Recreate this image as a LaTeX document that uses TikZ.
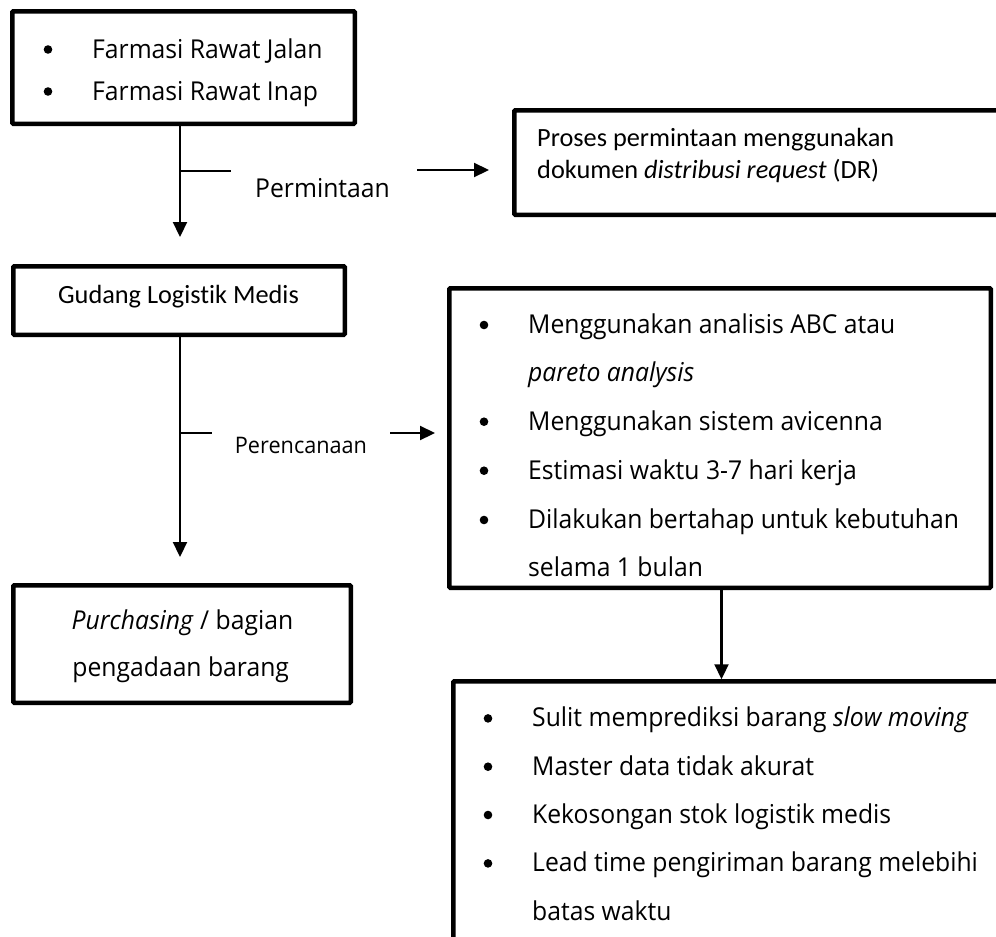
\documentclass[tikz,border=0pt]{standalone}
\usepackage{fontspec}
\setmainfont{Open Sans}[FakeStretch=0.95]
\newfontfamily\calib{Carlito}[Ligatures=NoCommon]
\usetikzlibrary{arrows.meta}
\tikzset{
  box/.style={draw, line width=4.5pt, inner sep=0pt, outer sep=0pt, rounded corners=1pt},
  conn/.style={line width=2.2pt},
  arr/.style={conn, -{Triangle[length=15pt,width=14pt]}},
  txt/.style={anchor=base west, inner sep=0pt, font=\fontsize{26}{26}\selectfont},
  ctxt/.style={anchor=base, inner sep=0pt, font=\fontsize{26}{26}\selectfont},
  ltxt/.style={anchor=base, inner sep=0pt, font=\fontsize{22.8}{22.8}\selectfont},
  ctxtc/.style={anchor=base west, inner sep=0pt, font=\calib\fontsize{26.3}{26.3}\selectfont},
  bul/.style={circle, fill, inner sep=0pt, minimum size=8.6pt},
}
\begin{document}
\begin{tikzpicture}[x=1pt,y=-1pt]
\useasboundingbox (0,0) rectangle (996,937);
\clip (0,0) rectangle (996,937);
% boxes
\node[box, minimum width=342.5pt, minimum height=112.5pt] (b1) at (183.5,67.5) {};
\node[box, minimum width=493.5pt, minimum height=104.5pt] (b2) at (761,162.5) {};
\node[box, minimum width=331.5pt, minimum height=68.5pt] (b3) at (179,300.5) {};
\node[box, minimum width=337.5pt, minimum height=117.5pt] (b4) at (182,644) {};
\node[box, minimum width=541.5pt, minimum height=299.5pt] (b5) at (720,438) {};
\node[box, minimum width=555.5pt, minimum height=266.5pt] (b6) at (731,814.5) {};
% box 1 text
\node[bul] (d11) at (48,49.5) {};
\node[txt] (t11) at (92,58) {Farmasi Rawat Jalan};
\node[bul] (d12) at (48,91.5) {};
\node[txt] (t12) at (92,100) {Farmasi Rawat Inap};
% box 2 text
\node[ctxtc] (t21) at (537,146.7) {Proses permintaan menggunakan};
\node[ctxtc] (t22) at (537,178.3) {dokumen \textit{distribusi request} (DR)};
% box 3 text
\node[ctxtc, anchor=base] (t31) at (178.5,303.3) {Gudang Logistik Medis};
% box 4 text
\node[ctxt] (t41) at (182.5,629) {\textit{Purchasing} / bagian};
\node[ctxt] (t42) at (180.7,676) {pengadaan barang};
% box 5 text
\node[bul] (d51) at (484,325) {};
\node[txt] (t51) at (528,333.3) {Menggunakan analisis ABC atau};
\node[txt] (t52) at (528,381.7) {\textit{pareto analysis}};
\node[bul] (d53) at (484,421.7) {};
\node[txt] (t53) at (528,430) {Menggunakan sistem avicenna};
\node[bul] (d54) at (484,470.7) {};
\node[txt] (t54) at (528,479) {Estimasi waktu 3-7 hari kerja};
\node[bul] (d55) at (484,520) {};
\node[txt] (t55) at (528,528.3) {Dilakukan bertahap untuk kebutuhan};
\node[txt] (t56) at (528,576) {selama 1 bulan};
% box 6 text
\node[bul] (d61) at (488,718.4) {};
\node[txt] (t61) at (532,726.7) {Sulit memprediksi barang \textit{slow moving}};
\node[bul] (d62) at (488,766.7) {};
\node[txt] (t62) at (532,775) {Master data tidak akurat};
\node[bul] (d63) at (488,815) {};
\node[txt] (t63) at (532,823.3) {Kekosongan stok logistik medis};
\node[bul] (d64) at (488,863.4) {};
\node[txt] (t64) at (532,871.7) {Lead time pengiriman barang melebihi};
\node[txt] (t65) at (532,920) {batas waktu};
% labels
\node[ctxt] (l1) at (322.5,197.7) {Permintaan};
\node[ltxt] (l2) at (301,453.3) {Perencanaan};
% connector coordinates
\coordinate (cx) at (180,0);
\coordinate (cx3) at (721.5,0);
\coordinate (a1e) at (180,237);
\coordinate (a2e) at (180,557);
\coordinate (k1s) at (180,171);
\coordinate (k1e) at (231,171);
\coordinate (k2s) at (180,433);
\coordinate (k2e) at (212,433);
\coordinate (r1s) at (417,170);
\coordinate (r1e) at (489,170);
\coordinate (r2s) at (390,433);
\coordinate (r2e) at (435,433);
% connectors
\draw[arr] (b1.south -| cx) -- (a1e);
\draw[conn] (k1s) -- (k1e);
\draw[arr] (r1s) -- (r1e);
\draw[arr] (b3.south -| cx) -- (a2e);
\draw[conn] (k2s) -- (k2e);
\draw[arr] (r2s) -- (r2e);
\draw[arr, shorten >=2pt] (b5.south -| cx3) -- (b6.north -| cx3);
\end{tikzpicture}
\end{document}
